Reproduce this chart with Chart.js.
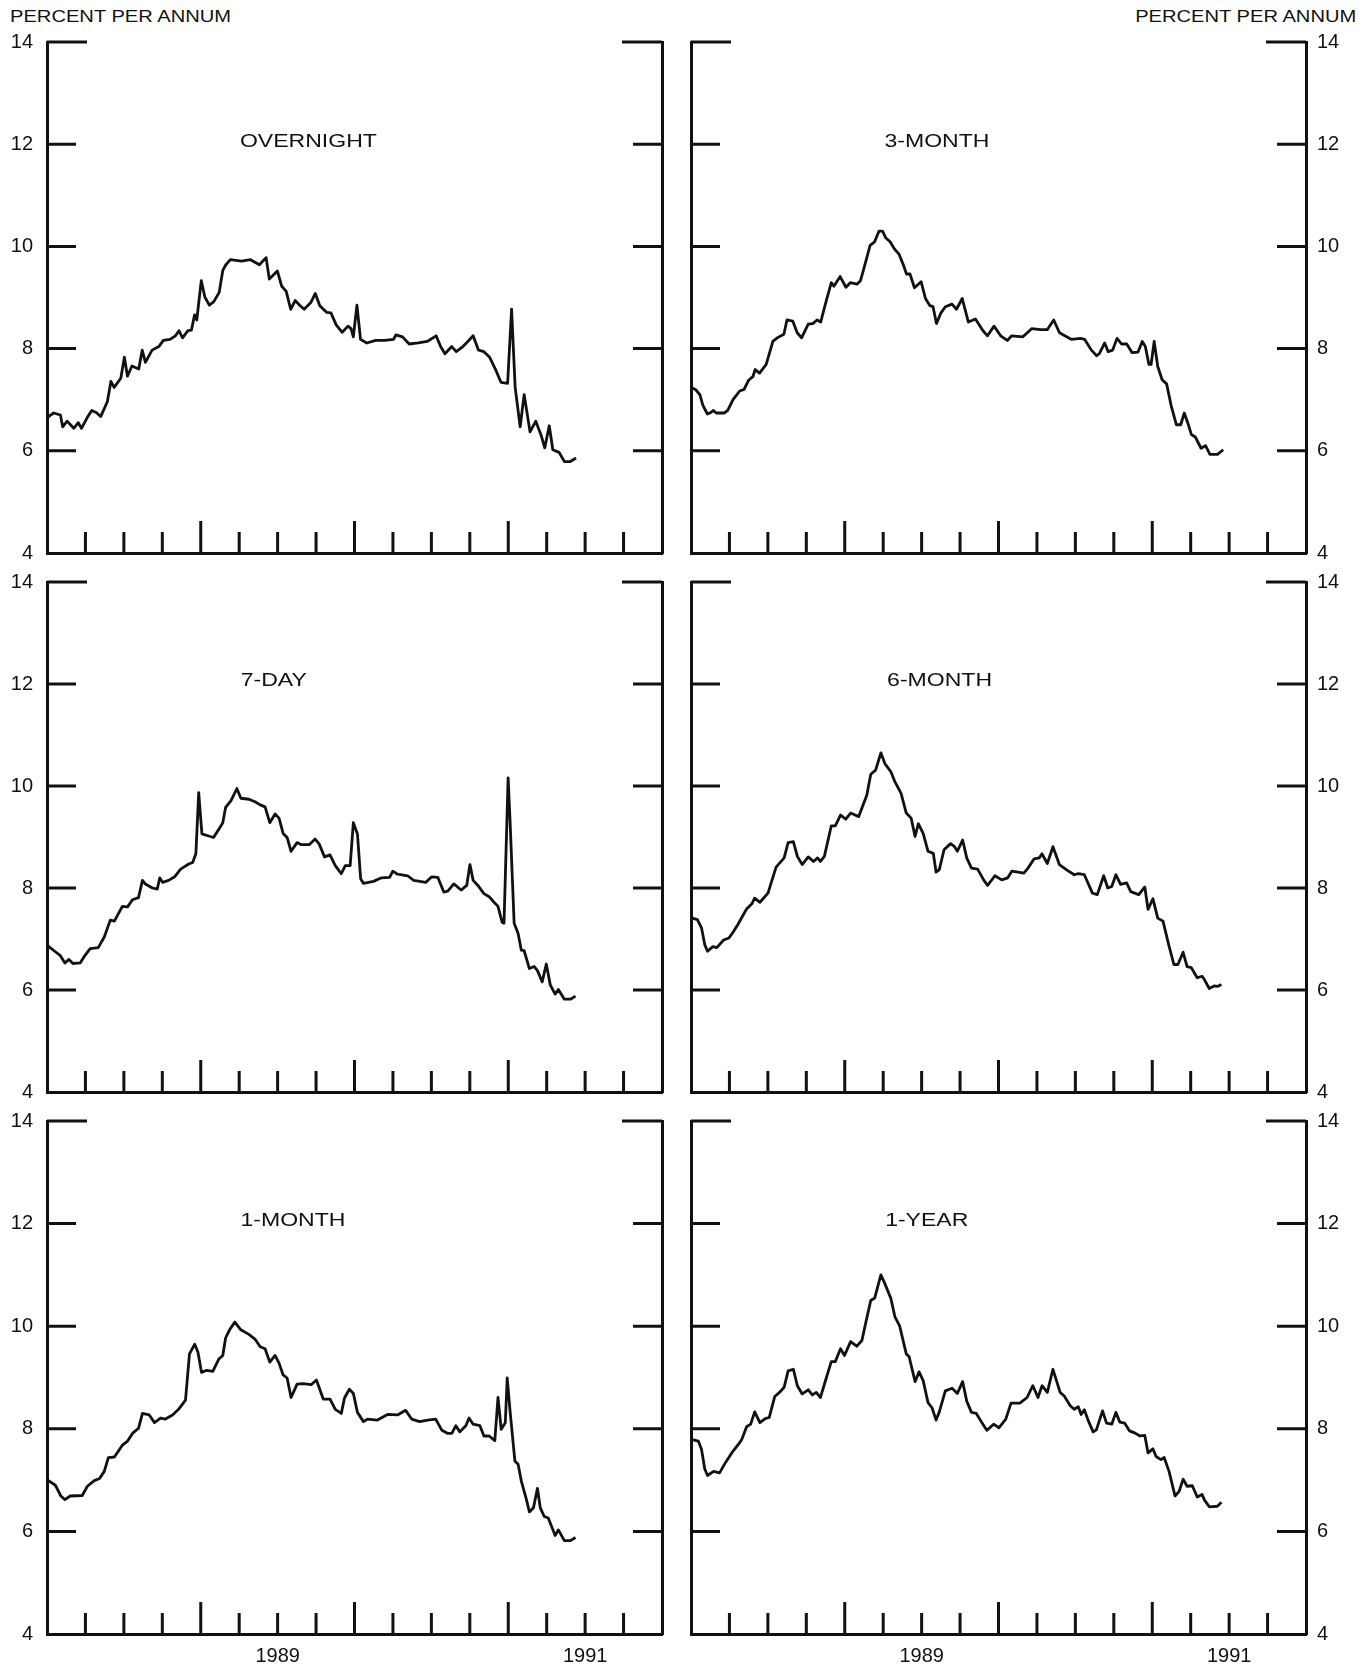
<!DOCTYPE html>
<html>
<head>
<meta charset="utf-8">
<script src="https://cdn.jsdelivr.net/npm/chart.js@4.4.1/dist/chart.umd.min.js"></script>
<style>
  html, body { margin: 0; padding: 0; background: #fff; }
  #page { position: relative; width: 1371px; height: 1670px; overflow: hidden; }
  #page canvas { position: absolute; left: 0; top: 0; }
  .unit { position: absolute; top: 6px; font: 16.5px "Liberation Sans", Arial, sans-serif; line-height: 20px; color: #111; white-space: nowrap; }
  #unitL { left: 10px; transform-origin: left center; transform: scaleX(1.22); }
  #unitR { right: 15px; transform-origin: right center; transform: scaleX(1.22); }
</style>
</head>
<body>
<div id="page">
  <div class="unit" id="unitL">PERCENT PER ANNUM</div>
  <div class="unit" id="unitR">PERCENT PER ANNUM</div>
</div>
<script>
// [months since Jan 1988, percent per annum]
const overnight = [[0,6.62],[0.17,6.68],[0.52,6.74],[1.05,6.70],[1.22,6.47],[1.57,6.58],[2.09,6.44],[2.44,6.55],[2.69,6.44],[3.14,6.65],[3.49,6.79],[3.84,6.75],[4.19,6.67],[4.71,6.96],[4.99,7.36],[5.24,7.24],[5.76,7.42],[6.04,7.83],[6.28,7.46],[6.63,7.66],[7.16,7.60],[7.43,7.97],[7.68,7.73],[8.20,7.97],[8.73,8.04],[9.08,8.16],[9.60,8.18],[10.02,8.25],[10.30,8.35],[10.58,8.21],[11.00,8.35],[11.27,8.36],[11.52,8.66],[11.69,8.56],[12.04,9.33],[12.32,9.01],[12.67,8.85],[13.02,8.92],[13.44,9.10],[13.72,9.53],[13.96,9.64],[14.31,9.74],[15.18,9.71],[15.88,9.74],[16.58,9.64],[17.10,9.78],[17.35,9.36],[17.98,9.52],[18.32,9.22],[18.67,9.12],[19.02,8.77],[19.37,8.94],[19.72,8.85],[20.07,8.77],[20.59,8.90],[20.94,9.08],[21.29,8.84],[21.82,8.71],[22.16,8.70],[22.58,8.46],[23.04,8.32],[23.49,8.44],[23.73,8.39],[23.91,8.23],[24.19,8.85],[24.47,8.18],[24.96,8.11],[25.65,8.16],[26.35,8.16],[27.05,8.18],[27.23,8.27],[27.75,8.23],[28.27,8.09],[28.97,8.11],[29.67,8.14],[30.37,8.25],[30.72,8.04],[31.06,7.90],[31.59,8.04],[31.94,7.94],[32.46,8.04],[32.81,8.13],[33.26,8.25],[33.68,7.97],[34.10,7.94],[34.55,7.83],[35.01,7.59],[35.43,7.34],[35.95,7.32],[36.26,8.77],[36.54,7.24],[36.93,6.47],[37.24,7.10],[37.70,6.37],[38.15,6.58],[38.57,6.30],[38.85,6.06],[39.20,6.49],[39.48,6.02],[39.97,5.97],[40.38,5.79],[40.84,5.79],[41.29,5.86]];

const threeMonth = [[0,7.24],[0.35,7.20],[0.69,7.10],[0.93,6.89],[1.28,6.72],[1.55,6.75],[1.73,6.79],[1.97,6.74],[2.59,6.74],[2.87,6.79],[3.28,7.00],[3.80,7.17],[4.14,7.20],[4.49,7.38],[4.83,7.45],[5.01,7.59],[5.35,7.52],[5.87,7.69],[6.39,8.14],[6.73,8.21],[7.25,8.28],[7.49,8.56],[7.94,8.54],[8.29,8.31],[8.63,8.21],[9.15,8.48],[9.50,8.49],[9.84,8.56],[10.12,8.52],[10.53,8.91],[10.95,9.29],[11.15,9.22],[11.64,9.41],[12.09,9.20],[12.43,9.29],[12.95,9.26],[13.23,9.33],[13.57,9.64],[13.98,10.02],[14.33,10.09],[14.68,10.30],[14.95,10.30],[15.19,10.17],[15.54,10.09],[15.88,9.95],[16.23,9.85],[16.57,9.64],[16.82,9.46],[17.09,9.46],[17.44,9.19],[17.96,9.31],[18.30,8.98],[18.65,8.84],[18.89,8.82],[19.16,8.49],[19.51,8.70],[19.85,8.82],[20.37,8.87],[20.72,8.77],[21.17,8.98],[21.65,8.52],[22.20,8.58],[22.79,8.35],[23.14,8.25],[23.65,8.44],[24.17,8.25],[24.69,8.16],[25.03,8.25],[25.90,8.23],[26.59,8.39],[27.28,8.37],[27.80,8.37],[28.31,8.56],[28.76,8.31],[29.18,8.25],[29.70,8.18],[30.39,8.20],[30.73,8.18],[31.25,7.97],[31.66,7.86],[31.87,7.90],[32.29,8.11],[32.56,7.94],[32.91,7.97],[33.25,8.20],[33.60,8.09],[34.01,8.09],[34.43,7.92],[34.88,7.93],[35.22,8.14],[35.46,8.04],[35.74,7.69],[35.91,7.69],[36.15,8.14],[36.43,7.65],[36.77,7.39],[37.12,7.31],[37.47,6.89],[37.88,6.51],[38.22,6.51],[38.50,6.74],[38.78,6.54],[39.05,6.32],[39.36,6.27],[39.81,6.05],[40.16,6.10],[40.50,5.93],[41.09,5.93],[41.54,6.02]];

const sevenDay = [[0,6.88],[0.55,6.77],[1.02,6.68],[1.40,6.53],[1.71,6.60],[2.03,6.52],[2.59,6.53],[2.97,6.68],[3.37,6.81],[4.00,6.83],[4.47,7.04],[4.94,7.37],[5.26,7.35],[5.88,7.64],[6.29,7.63],[6.67,7.77],[7.14,7.81],[7.45,8.15],[7.67,8.08],[8.23,8.00],[8.61,7.98],[8.80,8.20],[9.02,8.11],[9.49,8.15],[9.96,8.22],[10.43,8.37],[11.06,8.47],[11.37,8.50],[11.62,8.67],[11.84,9.87],[12.09,9.06],[12.62,9.02],[13.00,8.99],[13.41,9.15],[13.72,9.28],[13.94,9.58],[14.35,9.71],[14.82,9.95],[15.13,9.76],[15.76,9.74],[16.23,9.69],[16.64,9.63],[17.02,9.59],[17.39,9.28],[17.80,9.45],[18.11,9.37],[18.43,9.07],[18.74,8.99],[19.05,8.72],[19.52,8.89],[19.84,8.85],[20.46,8.85],[20.93,8.96],[21.25,8.86],[21.66,8.61],[22.09,8.65],[22.50,8.44],[22.97,8.28],[23.28,8.44],[23.66,8.44],[23.91,9.28],[24.23,9.06],[24.48,8.18],[24.70,8.09],[25.48,8.13],[26.11,8.20],[26.74,8.21],[26.99,8.33],[27.36,8.27],[28.15,8.24],[28.62,8.15],[29.56,8.11],[30.03,8.22],[30.50,8.21],[30.97,7.92],[31.28,7.94],[31.75,8.08],[32.32,7.96],[32.76,8.05],[33.01,8.46],[33.26,8.15],[33.63,8.05],[34.10,7.89],[34.51,7.83],[34.89,7.72],[35.20,7.64],[35.52,7.33],[35.67,7.31],[35.99,10.16],[36.14,9.32],[36.46,7.31],[36.77,7.11],[37.02,6.78],[37.24,6.77],[37.65,6.42],[38.03,6.46],[38.28,6.38],[38.65,6.16],[38.97,6.51],[39.28,6.10],[39.66,5.92],[39.91,6.01],[40.38,5.82],[40.85,5.82],[41.25,5.88]];

const sixMonth = [[0.1,7.41],[0.50,7.38],[0.82,7.22],[1.07,6.89],[1.29,6.76],[1.70,6.85],[2.01,6.83],[2.55,6.98],[2.96,7.02],[3.33,7.15],[3.65,7.28],[4.03,7.45],[4.34,7.59],[4.75,7.69],[4.97,7.80],[5.38,7.72],[6.01,7.90],[6.64,8.41],[7.27,8.59],[7.58,8.89],[7.99,8.91],[8.30,8.62],[8.68,8.46],[9.15,8.61],[9.56,8.52],[9.88,8.59],[10.10,8.52],[10.41,8.62],[10.95,9.22],[11.26,9.22],[11.67,9.43],[12.08,9.35],[12.46,9.47],[13.09,9.40],[13.40,9.61],[13.72,9.82],[14.03,10.23],[14.41,10.31],[14.82,10.65],[15.13,10.44],[15.60,10.28],[15.92,10.08],[16.39,9.86],[16.80,9.47],[17.18,9.37],[17.49,9.01],[17.74,9.26],[18.12,9.07],[18.50,8.72],[18.91,8.68],[19.13,8.31],[19.38,8.36],[19.75,8.75],[20.26,8.87],[20.57,8.81],[20.79,8.72],[21.20,8.94],[21.52,8.59],[21.89,8.39],[22.37,8.37],[22.84,8.16],[23.15,8.05],[23.72,8.24],[24.25,8.16],[24.72,8.20],[25.04,8.33],[25.51,8.31],[25.98,8.29],[26.30,8.39],[26.77,8.57],[27.18,8.59],[27.40,8.67],[27.81,8.48],[28.25,8.81],[28.75,8.46],[29.29,8.36],[29.91,8.26],[30.23,8.28],[30.70,8.26],[31.33,7.90],[31.71,7.87],[32.21,8.24],[32.53,8.00],[32.84,8.03],[33.16,8.26],[33.53,8.07],[34.00,8.10],[34.32,7.93],[34.95,7.87],[35.42,8.02],[35.67,7.58],[36.05,7.79],[36.43,7.41],[36.84,7.35],[37.31,6.86],[37.69,6.50],[38.00,6.50],[38.41,6.74],[38.72,6.46],[39.04,6.44],[39.51,6.24],[39.89,6.27],[40.08,6.20],[40.45,6.03],[40.83,6.08],[41.08,6.07],[41.40,6.11]];

const oneMonth = [[0,7.01],[0.65,6.90],[1.08,6.69],[1.40,6.62],[1.81,6.69],[2.75,6.70],[3.15,6.88],[3.69,6.99],[4.10,7.03],[4.47,7.17],[4.79,7.44],[5.26,7.45],[5.88,7.68],[6.29,7.76],[6.67,7.91],[7.14,8.01],[7.45,8.30],[7.98,8.27],[8.39,8.12],[8.86,8.21],[9.24,8.19],[9.80,8.27],[10.27,8.38],[10.81,8.56],[11.12,9.46],[11.53,9.65],[11.78,9.49],[12.06,9.10],[12.47,9.14],[12.94,9.12],[13.41,9.36],[13.72,9.43],[13.94,9.77],[14.25,9.93],[14.66,10.08],[15.13,9.93],[15.76,9.84],[16.23,9.75],[16.64,9.60],[17.02,9.56],[17.39,9.30],[17.80,9.43],[18.11,9.28],[18.43,9.05],[18.74,8.99],[19.05,8.61],[19.52,8.87],[19.99,8.88],[20.62,8.86],[21.03,8.95],[21.56,8.58],[22.09,8.58],[22.50,8.38],[22.97,8.30],[23.22,8.60],[23.60,8.77],[23.91,8.69],[24.23,8.32],[24.70,8.14],[25.01,8.19],[25.79,8.17],[26.58,8.28],[27.36,8.27],[27.99,8.36],[28.46,8.19],[29.09,8.14],[29.71,8.17],[30.34,8.19],[30.82,7.97],[31.28,7.91],[31.60,7.91],[31.91,8.06],[32.22,7.94],[32.69,8.06],[32.94,8.21],[33.26,8.09],[33.79,8.06],[34.10,7.86],[34.51,7.86],[34.95,7.77],[35.20,8.61],[35.45,7.99],[35.77,8.12],[35.92,8.99],[36.14,8.35],[36.52,7.37],[36.77,7.31],[37.02,6.98],[37.40,6.64],[37.65,6.38],[37.97,6.46],[38.28,6.84],[38.50,6.46],[38.81,6.29],[39.12,6.26],[39.44,6.06],[39.66,5.92],[39.91,6.03],[40.38,5.82],[40.85,5.82],[41.25,5.88]];

const oneYear = [[0.1,7.79],[0.57,7.76],[0.82,7.60],[1.07,7.22],[1.29,7.09],[1.76,7.17],[2.23,7.14],[2.71,7.35],[3.18,7.53],[3.65,7.68],[3.96,7.79],[4.34,8.04],[4.66,8.09],[4.97,8.33],[5.38,8.12],[5.79,8.20],[6.10,8.22],[6.54,8.63],[6.95,8.72],[7.27,8.81],[7.58,9.13],[7.99,9.16],[8.30,8.84],[8.68,8.68],[9.15,8.76],[9.47,8.66],[9.78,8.71],[10.10,8.61],[10.57,9.00],[10.95,9.31],[11.26,9.31],[11.67,9.56],[11.98,9.43],[12.46,9.70],[12.93,9.61],[13.34,9.72],[13.65,10.08],[14.03,10.50],[14.34,10.55],[14.82,11.00],[15.13,10.83],[15.60,10.54],[15.92,10.18],[16.29,10.00],[16.80,9.46],[17.02,9.41],[17.49,8.92],[17.80,9.11],[18.12,8.94],[18.50,8.51],[18.81,8.41],[19.13,8.17],[19.38,8.33],[19.85,8.74],[20.38,8.79],[20.79,8.69],[21.20,8.92],[21.52,8.54],[21.89,8.32],[22.27,8.30],[22.68,8.13],[23.09,7.97],[23.62,8.09],[24.03,8.02],[24.57,8.19],[24.98,8.50],[25.67,8.50],[26.23,8.61],[26.68,8.84],[27.08,8.61],[27.40,8.84],[27.81,8.71],[28.25,9.16],[28.81,8.71],[29.13,8.64],[29.60,8.45],[29.91,8.38],[30.23,8.43],[30.45,8.28],[30.70,8.37],[31.02,8.15],[31.39,7.94],[31.64,7.98],[32.12,8.35],[32.43,8.11],[32.84,8.09],[33.16,8.32],[33.47,8.13],[33.85,8.11],[34.22,7.96],[34.63,7.92],[35.04,7.86],[35.42,7.87],[35.67,7.53],[36.05,7.61],[36.30,7.46],[36.68,7.40],[36.93,7.44],[37.31,7.17],[37.78,6.69],[38.10,6.78],[38.41,7.02],[38.72,6.88],[39.13,6.89],[39.51,6.67],[39.89,6.72],[40.08,6.61],[40.45,6.48],[41.08,6.49],[41.40,6.57]];

const panelTitles = ['OVERNIGHT', '3-MONTH', '7-DAY', '6-MONTH', '1-MONTH', '1-YEAR'];
const panelSeries = [overnight, threeMonth, sevenDay, sixMonth, oneMonth, oneYear];
const rateTicks = [4, 6, 8, 10, 12, 14];
const yearTickMonths = [18, 42];          // label sits mid-year
const yearTickLabels = ['1989', '1991'];

// layout (page pixels)
const INK = '#111';
const FONT = '"Liberation Sans", Arial, Helvetica, sans-serif';
const PAGE_W = 1371, PAGE_H = 1670;
const colX = [[47, 662], [691, 1306]];
const rowY = [[42, 553], [582, 1092], [1121, 1634]];
const titleAt = [20.4, 19.2, 17.7, 19.4, 19.2, 18.4];
const Y_W = 40, X_H = 40;

// inward tick stubs on both sides + quarter ticks on the bottom + panel title
const frameTicks = {
  id: 'frameTicks',
  afterDraw(chart, args, opts) {
    const { ctx, chartArea: a, scales: { x, y } } = chart;
    ctx.save();
    ctx.strokeStyle = INK;
    ctx.lineWidth = 3;
    ctx.beginPath();
    rateTicks.forEach(v => {
      if (v === 4) return;
      const py = y.getPixelForValue(v);
      const len = v === 14 ? 40 : 29;
      ctx.moveTo(a.left, py); ctx.lineTo(a.left + len, py);
      ctx.moveTo(a.right - len, py); ctx.lineTo(a.right, py);
    });
    for (let m = 3; m < 48; m += 3) {
      const px = x.getPixelForValue(m);
      const h = m % 12 === 0 ? 32 : 21;
      ctx.moveTo(px, a.bottom); ctx.lineTo(px, a.bottom - h);
    }
    ctx.stroke();

    ctx.fillStyle = INK;
    ctx.font = '18px ' + FONT;
    ctx.textAlign = 'center';
    ctx.textBaseline = 'middle';
    ctx.translate(x.getPixelForValue(opts.at), y.getPixelForValue(12.05));
    ctx.scale(1.28, 1);
    ctx.fillText(opts.text, 0, 0);
    ctx.restore();
  }
};

function makePanel(i) {
  const col = i % 2, row = Math.floor(i / 2);
  const [left, right] = colX[col];
  const [top, bottom] = rowY[row];
  const cv = document.createElement('canvas');
  cv.width = PAGE_W; cv.height = PAGE_H;
  document.getElementById('page').appendChild(cv);

  const tickFont = { family: FONT, size: 20 };
  const pad = col === 0
    ? { left: left - Y_W, right: PAGE_W - right, top, bottom: PAGE_H - bottom - X_H }
    : { left, right: PAGE_W - right - Y_W, top, bottom: PAGE_H - bottom - X_H };

  return new Chart(cv.getContext('2d'), {
    type: 'line',
    data: {
      datasets: [{
        data: panelSeries[i].map(([m, v]) => ({ x: m, y: v })),
        borderColor: INK,
        borderWidth: 2.8,
        pointRadius: 0,
        tension: 0,
        borderJoinStyle: 'round',
        fill: false
      }]
    },
    options: {
      responsive: false,
      animation: false,
      events: [],
      layout: { padding: pad },
      plugins: {
        legend: { display: false },
        tooltip: { enabled: false },
        frameTicks: { text: panelTitles[i], at: titleAt[i] }
      },
      scales: {
        x: {
          type: 'linear', min: 0, max: 48, position: 'bottom',
          grid: { display: false, drawTicks: false },
          border: { display: true, width: 3, color: INK },
          afterBuildTicks: s => { s.ticks = yearTickMonths.map(v => ({ value: v })); },
          afterFit: s => { s.height = X_H; },
          ticks: {
            display: row === 2, autoSkip: false, maxRotation: 0, padding: 10,
            font: tickFont, color: INK,
            callback: (v, idx) => yearTickLabels[idx]
          }
        },
        y: {
          type: 'linear', min: 4, max: 14, position: col === 0 ? 'left' : 'right',
          grid: { display: false, drawTicks: false },
          border: { display: true, width: 3, color: INK },
          afterFit: s => { s.width = Y_W; },
          ticks: { stepSize: 2, padding: col === 0 ? 14 : 11, font: tickFont, color: INK }
        },
        y2: {
          type: 'linear', min: 4, max: 14, position: col === 0 ? 'right' : 'left',
          grid: { display: false, drawTicks: false },
          border: { display: true, width: 3, color: INK },
          afterFit: s => { s.width = 0; },
          ticks: { display: false }
        }
      }
    },
    plugins: [frameTicks]
  });
}

panelTitles.forEach((_, i) => makePanel(i));
</script>
</body>
</html>
